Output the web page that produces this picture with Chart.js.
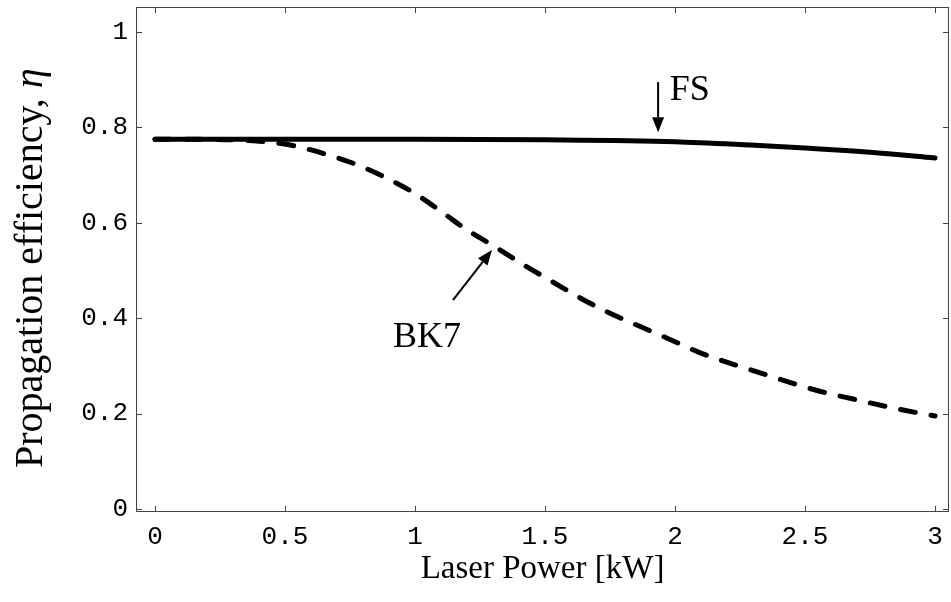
<!DOCTYPE html>
<html>
<head>
<meta charset="utf-8">
<script src="https://cdn.jsdelivr.net/npm/chart.js@4/dist/chart.umd.min.js"></script>
<style>
  html, body { margin: 0; padding: 0; background: #fff; }
  #wrap { width: 951px; height: 602px; }
</style>
</head>
<body>
<div id="wrap"><canvas id="c" width="951" height="602"></canvas></div>
<script>
// Data
const fsPower = [0, 0.5, 1.0, 1.5, 2.0, 2.29, 2.5, 2.75, 3.0];
const fsEff   = [0.775, 0.775, 0.775, 0.774, 0.770, 0.763, 0.757, 0.748, 0.736];

const bk7Power = [0, 0.2, 0.4, 0.52, 0.65, 0.78, 0.89, 1.01, 1.11, 1.2, 1.31, 1.42, 1.53, 1.63, 1.74, 1.86, 1.97, 2.09, 2.21, 2.33, 2.45, 2.57, 2.69, 2.82, 2.94, 3.0];
const bk7Eff   = [0.775, 0.775, 0.771, 0.763, 0.745, 0.721, 0.694, 0.658, 0.620, 0.585, 0.549, 0.511, 0.476, 0.444, 0.413, 0.384, 0.358, 0.329, 0.306, 0.285, 0.264, 0.245, 0.230, 0.214, 0.201, 0.195];

const xTicks = [0, 0.5, 1, 1.5, 2, 2.5, 3];
const yTicks = [0, 0.2, 0.4, 0.6, 0.8, 1];
const xTickLabels = ['0', '0.5', '1', '1.5', '2', '2.5', '3'];
const yTickLabels = ['0', '0.2', '0.4', '0.6', '0.8', '1'];

const xTitle = 'Laser Power [kW]';
const yTitleMain = 'Propagation efficiency, ';
const yTitleSymbol = 'η';

// Annotations (data coordinates)
const fsLabel  = { text: 'FS',  x: 1.98, y: 0.857, arrowFrom: [1.935, 0.895], arrowTo: [1.935, 0.790] };
const bk7Label = { text: 'BK7', x: 0.915, y: 0.340, arrowFrom: [1.146, 0.438], arrowTo: [1.296, 0.543] };

const toXY = (xs, ys) => xs.map((x, i) => ({ x: x, y: ys[i] }));

const serif = "'Liberation Serif', 'Times New Roman', serif";
const mono  = "'Liberation Mono', 'Courier New', monospace";

function drawArrow(ctx, x1, y1, x2, y2) {
  const ang = Math.atan2(y2 - y1, x2 - x1);
  const headLen = 15, headW = 6;
  const bx = x2 - headLen * Math.cos(ang), by = y2 - headLen * Math.sin(ang);
  ctx.beginPath();
  ctx.moveTo(x1, y1);
  ctx.lineTo(bx, by);
  ctx.lineWidth = 2;
  ctx.strokeStyle = '#000';
  ctx.stroke();
  ctx.beginPath();
  ctx.moveTo(x2, y2);
  ctx.lineTo(bx + headW * Math.sin(ang), by - headW * Math.cos(ang));
  ctx.lineTo(bx - headW * Math.sin(ang), by + headW * Math.cos(ang));
  ctx.closePath();
  ctx.fillStyle = '#000';
  ctx.fill();
}

const framePlugin = {
  id: 'frame',
  afterDatasetsDraw(chart) {
    const { ctx, chartArea: a, scales: { x, y } } = chart;
    ctx.save();
    ctx.strokeStyle = '#444';
    ctx.lineWidth = 1;
    ctx.strokeRect(a.left + 0.5, a.top + 0.5, a.right - a.left - 1, a.bottom - a.top - 1);
    const tl = 6;
    ctx.beginPath();
    xTicks.forEach(v => {
      const px = Math.round(x.getPixelForValue(v)) + 0.5;
      ctx.moveTo(px, a.bottom); ctx.lineTo(px, a.bottom - tl);
      ctx.moveTo(px, a.top); ctx.lineTo(px, a.top + tl);
    });
    yTicks.forEach(v => {
      const py = Math.round(y.getPixelForValue(v)) + 0.5;
      ctx.moveTo(a.left, py); ctx.lineTo(a.left + tl, py);
      ctx.moveTo(a.right, py); ctx.lineTo(a.right - tl, py);
    });
    ctx.stroke();

    // annotations
    ctx.fillStyle = '#000';
    ctx.font = '36px ' + serif;
    ctx.textBaseline = 'alphabetic';
    ctx.textAlign = 'left';
    [fsLabel, bk7Label].forEach(l => {
      ctx.fillText(l.text, x.getPixelForValue(l.x), y.getPixelForValue(l.y));
      drawArrow(ctx,
        x.getPixelForValue(l.arrowFrom[0]), y.getPixelForValue(l.arrowFrom[1]),
        x.getPixelForValue(l.arrowTo[0]), y.getPixelForValue(l.arrowTo[1]));
    });

    // y-axis title (with italic eta)
    ctx.translate(42, 468);
    ctx.rotate(-Math.PI / 2);
    ctx.textAlign = 'left';
    ctx.textBaseline = 'alphabetic';
    ctx.font = '40px ' + serif;
    ctx.fillText(yTitleMain, 0, 0);
    const w = ctx.measureText(yTitleMain).width;
    ctx.font = 'italic 40px ' + serif;
    ctx.fillText(yTitleSymbol, w, 0);
    ctx.restore();
  }
};

new Chart(document.getElementById('c'), {
  type: 'scatter',
  data: {
    datasets: [
      {
        label: 'FS',
        data: toXY(fsPower, fsEff),
        showLine: true,
        borderColor: '#000',
        borderWidth: 5,
        pointRadius: 0,
        cubicInterpolationMode: 'monotone',
        borderCapStyle: 'round'
      },
      {
        label: 'BK7',
        data: toXY(bk7Power, bk7Eff),
        showLine: true,
        borderColor: '#000',
        borderWidth: 5,
        borderDash: [15, 16],
        borderCapStyle: 'round',
        pointRadius: 0,
        cubicInterpolationMode: 'monotone'
      }
    ]
  },
  options: {
    responsive: false,
    animation: false,
    events: [],
    layout: { padding: { left: 0, top: 7, right: 2, bottom: 0 } },
    plugins: { legend: { display: false }, tooltip: { enabled: false } },
    scales: {
      x: {
        type: 'linear',
        min: -0.0731,
        max: 3.0538,
        afterBuildTicks(s) { s.ticks = xTicks.map(v => ({ value: v })); },
        afterFit(s) { s.height = 90; s.paddingLeft = 0; s.paddingRight = 0; },
        grid: { display: false, drawTicks: false },
        border: { display: false },
        ticks: {
          color: '#000',
          padding: 10,
          font: { family: mono, size: 26 },
          callback(v) { const i = xTicks.indexOf(v); return i >= 0 ? xTickLabels[i] : ''; }
        },
        title: {
          display: true,
          text: xTitle,
          color: '#000',
          font: { family: serif, size: 33 },
          padding: { top: 0, bottom: 13 }
        }
      },
      y: {
        type: 'linear',
        min: -0.0063,
        max: 1.0524,
        afterBuildTicks(s) { s.ticks = yTicks.map(v => ({ value: v })); },
        afterFit(s) { s.width = 136; s.paddingTop = 0; s.paddingBottom = 0; },
        grid: { display: false, drawTicks: false },
        border: { display: false },
        ticks: {
          color: '#000',
          padding: 8,
          font: { family: mono, size: 26 },
          callback(v) { const i = yTicks.indexOf(v); return i >= 0 ? yTickLabels[i] : ''; }
        },
        title: { display: false }
      }
    }
  },
  plugins: [framePlugin]
});
</script>
</body>
</html>
